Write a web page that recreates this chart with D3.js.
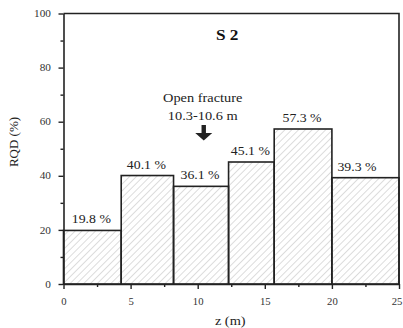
<!DOCTYPE html>
<html>
<head>
<meta charset="utf-8">
<script src="https://cdn.jsdelivr.net/npm/d3@7"></script>
<style>
  body { margin: 0; background: #fff; }
  svg { display: block; }
  svg text { font-family: "Liberation Serif", "Times New Roman", serif; }
</style>
</head>
<body>
<div id="chart"></div>
<script>
// bin edges along z (m) and RQD per bin
const edges = [0, 4.3, 8.2, 12.3, 15.7, 20, 25];
const rqd = [19.8, 40.1, 36.1, 45.1, 57.3, 39.3];
const barLabels = ["19.8 %", "40.1 %", "36.1 %", "45.1 %", "57.3 %", "39.3 %"];
const xTicks = [0, 5, 10, 15, 20, 25];
const yTicks = [0, 20, 40, 60, 80, 100];
const fracture = [10.3, 10.6];

const width = 403, height = 328;
const margin = { top: 13.5, right: 4, bottom: 44, left: 63.5 };
const SX = 1.15; // the source figure's text is a bit wider than tall

const svg = d3.select('#chart').append('svg')
  .attr('width', width).attr('height', height)
  .attr('font-family', 'Liberation Serif');

const x = d3.scaleLinear().domain([0, 25]).range([margin.left, width - margin.right]);
const y = d3.scaleLinear().domain([0, 100]).range([height - margin.bottom, margin.top]);

// put a text at (px,py), stretched a little horizontally
function label(g, px, py, str, size, weight) {
  return g.append('text')
    .attr('transform', `translate(${px},${py}) scale(${SX},1)`)
    .attr('text-anchor', 'middle')
    .attr('font-family', 'Liberation Serif')
    .attr('font-size', size)
    .attr('font-weight', weight || 'normal')
    .attr('fill', '#222')
    .text(str);
}

// hatch pattern
const defs = svg.append('defs');
const pat = defs.append('pattern')
  .attr('id', 'hatch')
  .attr('patternUnits', 'userSpaceOnUse')
  .attr('width', 4.8).attr('height', 4.8)
  .attr('patternTransform', 'rotate(45)');
pat.append('line')
  .attr('x1', 0).attr('y1', 0).attr('x2', 0).attr('y2', 4.8)
  .attr('stroke', '#a8a8a8').attr('stroke-width', 0.8);

const bins = rqd.map((v, i) => ({ x0: edges[i], x1: edges[i + 1], v, label: barLabels[i] }));

// bars
svg.append('g').selectAll('rect')
  .data(bins)
  .join('rect')
  .attr('x', d => x(d.x0))
  .attr('y', d => y(d.v))
  .attr('width', d => x(d.x1) - x(d.x0))
  .attr('height', d => y(0) - y(d.v))
  .attr('fill', 'url(#hatch)')
  .attr('stroke', '#222')
  .attr('stroke-width', 1.6);

// bar labels (the last one sits a bit left of its bin centre in the original)
const lab = svg.append('g');
bins.forEach((d, i) => {
  const cx = i === bins.length - 1 ? (x(d.x0) + x(d.x1)) / 2 - 8.5 : (x(d.x0) + x(d.x1)) / 2 - 1;
  label(lab, cx, y(d.v) - 7, d.label, 12);
});

// frame top & right
svg.append('path')
  .attr('d', `M${x(0)},${y(100)}H${x(25)}V${y(0)}`)
  .attr('fill', 'none').attr('stroke', '#222').attr('stroke-width', 1.6);

// axes
const xAxis = svg.append('g')
  .attr('transform', `translate(0,${y(0)})`)
  .call(d3.axisBottom(x).tickValues(xTicks).tickSize(5).tickPadding(9.5).tickSizeOuter(0));
svg.append('g')
  .attr('transform', `translate(0,${y(0)})`)
  .call(d3.axisBottom(x).tickValues(d3.range(2.5, 25, 5)).tickSize(3).tickFormat('').tickSizeOuter(0))
  .call(g => g.select('.domain').remove());

const yAxis = svg.append('g')
  .attr('transform', `translate(${x(0)},0)`)
  .call(d3.axisLeft(y).tickValues(yTicks).tickSize(5).tickPadding(7.5).tickSizeOuter(0));
svg.append('g')
  .attr('transform', `translate(${x(0)},0)`)
  .call(d3.axisLeft(y).tickValues(d3.range(10, 100, 20)).tickSize(3).tickFormat('').tickSizeOuter(0))
  .call(g => g.select('.domain').remove());

svg.selectAll('g').attr('font-family', 'Liberation Serif');
svg.selectAll('.domain').attr('stroke', '#222').attr('stroke-width', 1.6);
svg.selectAll('.tick line').attr('stroke', '#222').attr('stroke-width', 1.4);

xAxis.selectAll('.tick text')
  .attr('font-size', 9.3).attr('fill', '#333')
  .attr('transform', d => `translate(${d === 25 ? -2.5 : 0},0) scale(${SX},1)`);
yAxis.selectAll('.tick text').each(function () {
  const t = d3.select(this);
  const tx = +t.attr('x');
  t.attr('x', 0).attr('transform', `translate(${tx},0) scale(${SX},1)`)
    .attr('font-size', 9.8).attr('fill', '#333');
});

// axis titles
label(svg, (x(0) + x(25)) / 2 - 1, height - 3.5, 'z (m)', 12.5);
svg.append('text')
  .attr('transform', `translate(18,142) rotate(-90)`)
  .attr('text-anchor', 'middle').attr('font-size', 13).attr('fill', '#222')
  .attr('font-family', 'Liberation Serif')
  .text('RQD (%)');

// panel title
label(svg, x(12.2), y(90.2), 'S 2', 15, 'bold').attr('fill', '#111');

// open fracture annotation
const fx = x((fracture[0] + fracture[1]) / 2);
label(svg, fx - 1, y(67.1), 'Open fracture', 12.5);
label(svg, fx - 1, y(60.6), `${fracture[0]}-${fracture[1]} m`, 12.5);
const ay = y(58.8);
svg.append('path')
  .attr('d', `M${fx - 2.2},${ay} V${ay + 8} H${fx - 8.5} L${fx},${ay + 15.5} L${fx + 8.5},${ay + 8} H${fx + 2.2} V${ay} Z`)
  .attr('fill', '#222');
</script>
</body>
</html>
